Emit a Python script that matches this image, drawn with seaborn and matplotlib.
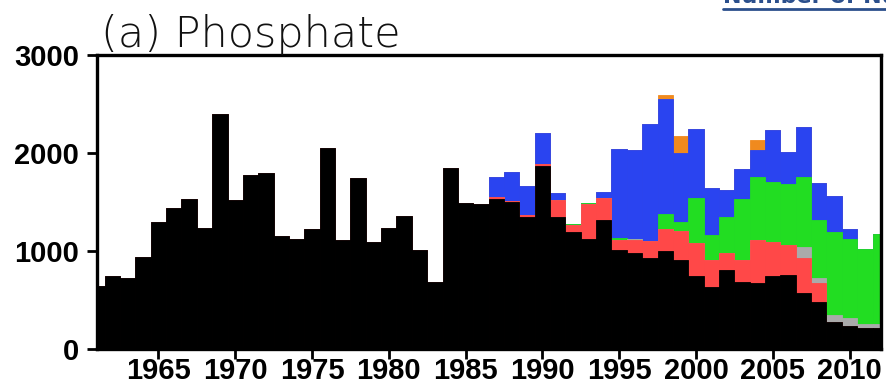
import numpy as np
import pandas as pd
import matplotlib
matplotlib.use("Agg")
import matplotlib.pyplot as plt
from matplotlib.lines import Line2D
import seaborn as sns

years = list(range(1961, 2013))

black = [640, 740, 720, 940, 1300, 1435, 1535, 1230, 2400, 1520,
         1775, 1800, 1150, 1120, 1220, 2050, 1110, 1740, 1095, 1230,
         1360, 1015, 680, 1845, 1485, 1475, 1535, 1500, 1350, 1865,
         1350, 1195, 1120, 1315, 1015, 975, 925, 1000, 910, 745,
         635, 805, 685, 670, 745, 760, 575, 475, 280, 230,
         210, 210]
red = [0] * 26 + [15, 15, 15, 20, 170, 70, 355, 230, 100, 135,
                  175, 220, 290, 335, 275, 170, 220, 440, 350, 300,
                  350, 195, 0, 0, 0, 0]
gray = [0] * 35 + [15, 0, 0, 0, 0, 0, 0, 0, 0, 0, 0,
                   120, 50, 70, 85, 50, 45]
green = [0] * 31 + [15, 15, 0, 20, 0, 0, 155, 100, 465,
                    255, 375, 625, 645, 610, 625, 715, 595, 840, 805,
                    765, 915]
blue = [0] * 26 + [210, 290, 300, 320, 75, 0, 0, 60, 910, 910,
                   1200, 1180, 700, 705, 475, 275, 310, 275, 530, 330,
                   510, 380, 370, 100, 0, 0]
orange = [0] * 37 + [35, 170, 0, 0, 0, 0, 105, 0, 0, 0, 0, 0, 0, 0, 0]

layers = [("black", black, "#000000"),
          ("red", red, "#FF4848"),
          ("gray", gray, "#AAAAAA"),
          ("green", green, "#22DD22"),
          ("blue", blue, "#2A44F0"),
          ("orange", orange, "#F08A1E")]

sns.set_theme(style="ticks")
plt.rcParams["font.family"] = ["Liberation Sans", "DejaVu Sans"]

fig = plt.figure(figsize=(8.87, 3.91), dpi=100)
ax = fig.add_axes([97 / 887, 1 - 349 / 391, 784 / 887, 294 / 391])

# cumulative tops of each stacked layer
tops = np.cumsum(np.array([vals for _, vals, _ in layers]), axis=0)
df = pd.DataFrame({"year": years})
for (name, _, _), top in zip(layers, tops):
    df[name] = top

# draw from the highest cumulative layer down so lower layers sit on top
for (name, _, color) in reversed(layers):
    sns.barplot(data=df, x="year", y=name, native_scale=True, width=1.0,
                color=color, saturation=1, linewidth=0.6, edgecolor=color,
                errorbar=None, ax=ax)

ax.set_xlim(1961.0, 2012.05)
ax.set_ylim(0, 3000)
ax.set_xticks(range(1965, 2011, 5))
ax.set_yticks([0, 1000, 2000, 3000])
ax.set_xlabel("")
ax.set_ylabel("")
for side in ["left", "right", "top", "bottom"]:
    ax.spines[side].set_visible(True)
    ax.spines[side].set_linewidth(2.4)
    ax.spines[side].set_color("black")
ax.tick_params(axis="both", direction="out", length=7, width=2, colors="black",
               labelsize=21)
ax.tick_params(axis="y", pad=6)
ax.tick_params(axis="x", pad=-1)
for lbl in ax.get_xticklabels() + ax.get_yticklabels():
    lbl.set_fontweight("bold")
ax.set_facecolor("white")

fig.text(101 / 887, 1 - 47 / 391, "(a) Phosphate", fontsize=31,
         fontweight="light", family=["DejaVu Sans"], color="#111111",
         va="baseline", ha="left")

# heading above the panel
fig.text(723 / 887, 1 - 3 / 391, "Number of Nutrient Data", fontsize=16,
         fontweight="bold", family=["DejaVu Sans"], color="#2B4F8C",
         va="baseline", ha="left")
fig.add_artist(Line2D([723 / 887, 1.0], [1 - 8.5 / 391, 1 - 8.5 / 391],
                      transform=fig.transFigure, color="#2B4F8C", lw=2))

fig.savefig("out.png", dpi=100, facecolor="white")
